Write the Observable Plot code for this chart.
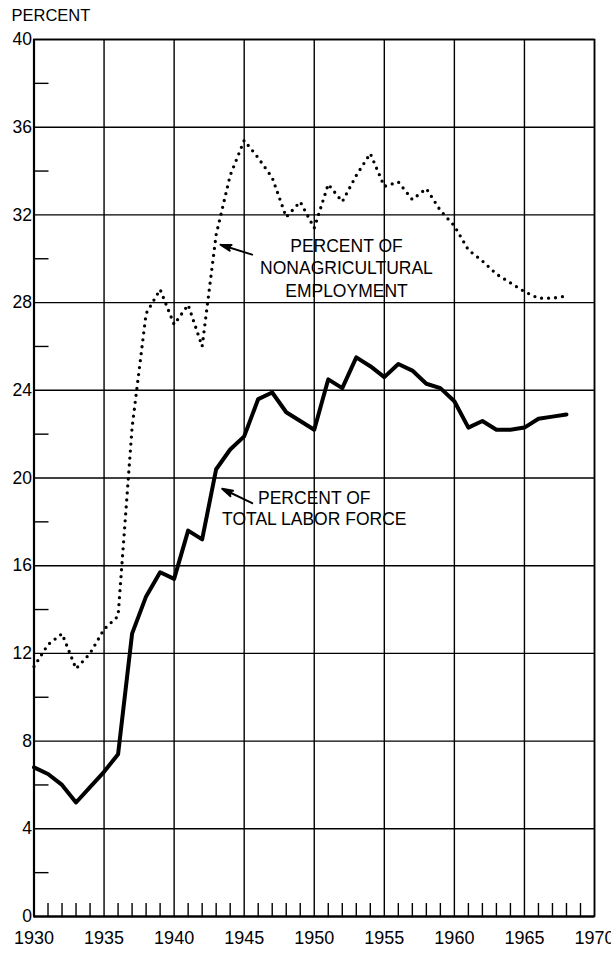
<!DOCTYPE html>
<html><head><meta charset="utf-8">
<script src="https://cdn.jsdelivr.net/npm/d3@7"></script>
<script src="https://cdn.jsdelivr.net/npm/@observablehq/plot@0.6"></script>
<style>html,body{margin:0;padding:0;background:#fff;} svg{display:block}</style>
</head><body><div id="chart"></div>
<script>
const years = [1930,1931,1932,1933,1934,1935,1936,1937,1938,1939,1940,1941,1942,1943,1944,1945,1946,1947,1948,1949,1950,1951,1952,1953,1954,1955,1956,1957,1958,1959,1960,1961,1962,1963,1964,1965,1966,1967,1968];
const laborForce = [6.8,6.5,6.0,5.2,5.9,6.6,7.4,12.9,14.6,15.7,15.4,17.6,17.2,20.4,21.3,21.9,23.6,23.9,23.0,22.6,22.2,24.5,24.1,25.5,25.1,24.6,25.2,24.9,24.3,24.1,23.5,22.3,22.6,22.2,22.2,22.3,22.7,22.8,22.9];
const nonAgricultural = [11.4,12.4,12.9,11.3,12.0,13.1,13.7,22.3,27.5,28.6,27.0,27.9,26.0,31.1,33.8,35.4,34.6,33.7,31.9,32.6,31.4,33.4,32.6,33.8,34.8,33.3,33.5,32.7,33.2,32.2,31.5,30.4,29.9,29.3,28.9,28.5,28.2,28.2,28.3];
const xTicks = [1930,1935,1940,1945,1950,1955,1960,1965,1970];
const xMinor = [1931,1932,1933,1934,1936,1937,1938,1939,1941,1942,1943,1944,1946,1947,1948,1949,1951,1952,1953,1954,1956,1957,1958,1959,1961,1962,1963,1964,1966,1967,1968,1969];
const yTicks = [0,4,8,12,16,20,24,28,32,36,40];
const yMinor = [2,6,10,14,18,22,26,30,34,38];
const yTitle = "PERCENT";
const labelTexts = ["PERCENT OF\nNONAGRICULTURAL\nEMPLOYMENT", "PERCENT OF\nTOTAL LABOR FORCE"];

// annotation placement (data coordinates)
const labelPos = [{x: 1952.3, y: 29.62, lh: 1.29}, {x: 1950.0, y: 18.64, lh: 1.23}];
const arrowPos = [
  {x1: 1945.57, y1: 30.19, x2: 1943.31, y2: 30.64},
  {x1: 1945.57, y1: 18.85, x2: 1943.43, y2: 19.51}
];

const W = 611, H = 954, mL = 33.5, mR = 17, mT = 39, mB = 38;
const plotW = W - mL - mR, plotH = H - mT - mB;
const rows = years.map((year, i) => ({year, labor: laborForce[i], nonag: nonAgricultural[i]}));
const labels = labelTexts.map((t, i) => ({text: t, ...labelPos[i]}));
const font = '"Liberation Sans", Arial, Helvetica, sans-serif';

const plot = Plot.plot({
  width: W, height: H,
  marginLeft: mL, marginRight: mR, marginTop: mT, marginBottom: mB,
  style: {fontFamily: font, color: "black", background: "white", overflow: "visible"},
  x: {domain: [1930, 1970]},
  y: {domain: [0, 40]},
  marks: [
    Plot.gridX(xTicks, {stroke: "black", strokeOpacity: 1, strokeWidth: 1.4}),
    Plot.gridY(yTicks, {stroke: "black", strokeOpacity: 1, strokeWidth: 1.4}),
    Plot.tickY(yMinor, {y: d => d, insetRight: plotW - 15, strokeWidth: 1.4}),
    Plot.tickX(xMinor, {x: d => d, insetTop: plotH - 13, strokeWidth: 1.4}),
    Plot.frame({stroke: "black", strokeWidth: 1.6}),
    Plot.ruleX([1930], {strokeWidth: 2.2}),
    Plot.ruleY([0], {strokeWidth: 2.2}),
    Plot.axisY(yTicks, {tickSize: 0, tickPadding: 2, fontSize: 17.5, label: null}),
    Plot.axisX(xTicks, {tickSize: 0, tickPadding: 15, fontSize: 18, tickFormat: d => String(d), label: null}),
    Plot.line(rows, {x: "year", y: "nonag", strokeWidth: 3.3, strokeDasharray: "0,7", strokeLinecap: "round"}),
    Plot.line(rows, {x: "year", y: "labor", strokeWidth: 4, strokeLinejoin: "round"}),
    Plot.text([yTitle], {frameAnchor: "top-left", text: d => d, dx: -22.5, dy: -23.5, textAnchor: "start", lineAnchor: "middle", fontSize: 16.5}),
    Plot.text(labels.slice(0,1), {x: "x", y: "y", text: "text", fontSize: 17.5, lineHeight: 1.29, textAnchor: "middle", lineAnchor: "middle"}),
    Plot.text(labels.slice(1), {x: "x", y: "y", text: "text", fontSize: 17.5, lineHeight: 1.23, textAnchor: "middle", lineAnchor: "middle"}),
    Plot.arrow(arrowPos, {x1: "x1", y1: "y1", x2: "x2", y2: "y2", headLength: 11, headAngle: 32, strokeWidth: 2, fill: "black", stroke: "black", bend: 0})
  ]
});
document.getElementById("chart").appendChild(plot);
</script>
</body></html>
